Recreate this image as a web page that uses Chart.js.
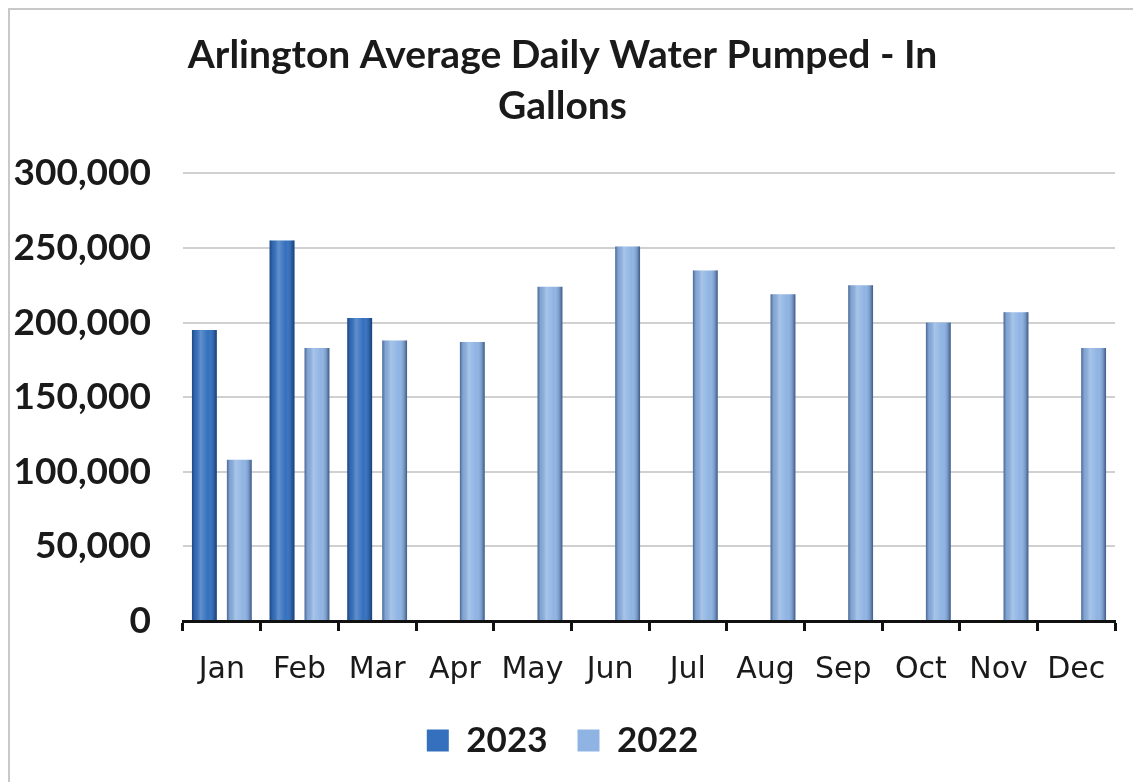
<!DOCTYPE html>
<html>
<head>
<meta charset="utf-8">
<script src="https://cdn.jsdelivr.net/npm/chart.js@4/dist/chart.umd.min.js"></script>
<style>
    html, body { margin: 0; padding: 0; background: #fff; }
    #wrap {
        position: absolute; left: 8px; top: 8px; width: 1125px; height: 774px;
        border-top: 2px solid #c8c8c8; border-left: 2px solid #c8c8c8;
        box-sizing: border-box;
    }
    #chart { display: block; }
</style>
</head>
<body>
<div id="wrap"><canvas id="chart" width="1123" height="772"></canvas></div>
<script>
    const months = ['Jan', 'Feb', 'Mar', 'Apr', 'May', 'Jun', 'Jul', 'Aug', 'Sep', 'Oct', 'Nov', 'Dec'];
    const pumped2023 = [195000, 255000, 203000, null, null, null, null, null, null, null, null, null];
    const pumped2022 = [108000, 183000, 188000, 187000, 224000, 251000, 235000, 219000, 225000, 200000, 207000, 183000];
    const yTicks = [0, 50000, 100000, 150000, 200000, 250000, 300000];

    // shade each bar like a cylinder, using the positions chart.js gave it
    const cylinderShade = {
        id: 'cylinderShade',
        afterDatasetDraw: function(chart, args) {
            const ctx = chart.ctx;
            const values = chart.data.datasets[args.index].data;
            args.meta.data.forEach(function(bar, i) {
                if (values[i] == null) return;
                const left = bar.x - bar.width / 2;
                const g = ctx.createLinearGradient(left, 0, left + bar.width, 0);
                g.addColorStop(0, 'rgba(10,30,70,0.5)');
                g.addColorStop(0.12, 'rgba(10,30,70,0.1)');
                g.addColorStop(0.35, 'rgba(255,255,255,0.22)');
                g.addColorStop(0.65, 'rgba(255,255,255,0)');
                g.addColorStop(0.88, 'rgba(10,30,70,0.2)');
                g.addColorStop(1, 'rgba(10,30,70,0.6)');
                ctx.save();
                ctx.fillStyle = g;
                ctx.fillRect(left, bar.y, bar.width, bar.base - bar.y);
                ctx.restore();
            });
        }
    };

    new Chart(document.getElementById('chart'), {
        type: 'bar',
        data: {
            labels: months,
            datasets: [{
                label: '2023',
                data: pumped2023,
                backgroundColor: '#3470be',
                categoryPercentage: 0.9,
                barPercentage: 0.71
            }, {
                label: '2022',
                data: pumped2022,
                backgroundColor: '#8fb4e3',
                categoryPercentage: 0.9,
                barPercentage: 0.71
            }]
        },
        plugins: [cylinderShade],
        options: {
            responsive: false,
            animation: false,
            layout: { padding: { left: 0, right: 18, top: 8, bottom: 14 } },
            plugins: {
                title: {
                    display: true,
                    text: ['Arlington Average Daily Water Pumped - In', 'Gallons'],
                    color: '#1a1a1a',
                    font: { family: 'Lato', size: 39, weight: 'bold', lineHeight: 1.3 },
                    padding: { top: 12, bottom: 42 }
                },
                legend: {
                    position: 'bottom',
                    labels: {
                        color: '#1a1a1a',
                        font: { family: 'Lato', size: 35, weight: 'bold' },
                        boxWidth: 22,
                        boxHeight: 22,
                        padding: 30
                    }
                },
                tooltip: { enabled: false }
            },
            scales: {
                x: {
                    grid: {
                        offset: true,
                        drawOnChartArea: false,
                        drawTicks: true,
                        tickLength: 10,
                        tickWidth: 3,
                        tickColor: '#111'
                    },
                    border: { display: true, color: '#111', width: 3 },
                    ticks: {
                        color: '#1a1a1a',
                        font: { family: 'DejaVu Sans', size: 30 },
                        padding: 21
                    },
                    afterFit: function(axis) {
                        axis.height -= 16;
                    }
                },
                y: {
                    min: 0,
                    max: 300000,
                    afterBuildTicks: function(axis) {
                        axis.ticks = yTicks.map(function(v) { return { value: v }; });
                    },
                    afterFit: function(axis) {
                        axis.width = 173;
                    },
                    grid: { color: '#d0d0d0', lineWidth: 2, drawTicks: false },
                    border: { display: false },
                    ticks: {
                        color: '#1a1a1a',
                        font: { family: 'Lato', size: 37, weight: 'bold' },
                        padding: 32,
                        callback: function(v) { return v.toLocaleString('en-US'); }
                    }
                }
            }
        }
    });
</script>
</body>
</html>
